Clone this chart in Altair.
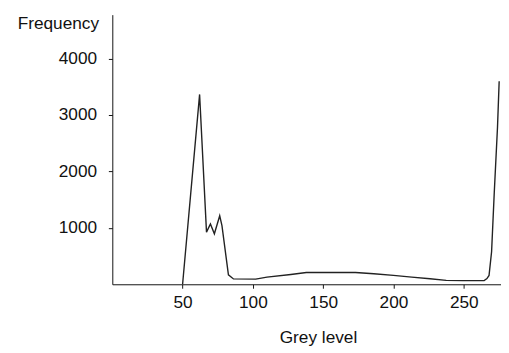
import altair as alt
import pandas as pd

grey = [50, 62.1, 67.0, 69.8, 72.6, 76.4, 78.0, 82.6, 86.2, 102, 110, 127, 138, 173,
        186, 200, 213, 226, 237.5, 249, 264.5, 266.5, 268, 269.8, 271.7, 274, 275.2]
freq = [0, 3366, 924, 1069, 895, 1214, 1040, 167, 95, 92, 127, 174, 209, 209,
        186, 157, 127, 99, 70, 65, 65, 100, 157, 576, 1623, 2780, 3600]
x_ticks = [50, 100, 150, 200, 250]
y_ticks = [1000, 2000, 3000, 4000]

df = pd.DataFrame({"grey": grey, "freq": freq})

FONT = "Liberation Sans"
FS = 17.5

chart = alt.Chart(df).mark_line(color="#222222", strokeWidth=1.4).encode(
    x=alt.X("grey:Q",
            scale=alt.Scale(domain=[0, 276.5], nice=False, zero=False),
            axis=alt.Axis(values=x_ticks, format="d", title="Grey level", titleX=209, titleY=59.5,
                          titleAlign="center", titleBaseline="alphabetic",
                          tickSize=4, labelPadding=6, labelFlush=False)),
    y=alt.Y("freq:Q",
            scale=alt.Scale(domain=[0, 4780], nice=False),
            axis=alt.Axis(values=y_ticks, format="d", title="Frequency", titleAngle=0,
                          titleX=-14, titleY=14, titleAlign="right",
                          titleBaseline="alphabetic",
                          tickSize=4, labelPadding=12, labelFlush=False)),
).properties(
    width=395, height=274,
    autosize=alt.AutoSizeParams(type="none"),
    padding={"left": 106, "top": 4, "right": 0, "bottom": 62},
).configure_view(stroke=None).configure_axis(
    grid=False, domainColor="#111111", tickColor="#111111", domainWidth=1, tickWidth=1,
    labelFont=FONT, titleFont=FONT, labelFontSize=FS, titleFontSize=FS,
    labelColor="#111111", titleColor="#111111", titleFontWeight="normal",
)

chart.save("out.html", embed_options={"renderer": "svg", "actions": False})
